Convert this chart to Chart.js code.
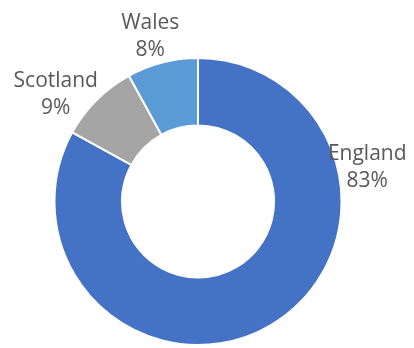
<!DOCTYPE html>
<html>
<head>
<meta charset="utf-8">
<script src="https://cdn.jsdelivr.net/npm/chart.js@4.4.1/dist/chart.umd.min.js"></script>
<style>
html,body{margin:0;padding:0;background:#fff;}
#wrap{width:414px;height:348px;position:relative;}
</style>
</head>
<body>
<div id="wrap"><canvas id="c" width="414" height="348"></canvas></div>
<script>
const categories = ["England", "Scotland", "Wales"];
const values = [83, 9, 8];
const percentLabels = ["83%", "9%", "8%"];
const colors = ["#4472C4", "#A5A5A5", "#5B9BD5"];

// label placement: angle (deg clockwise from top) and distance beyond outer radius
const labelPlacement = [
  {angle: 80.7, extra: 28},
  {angle: -54.6, extra: 31},
  {angle: -16.7, extra: 22.5}
];

const labelPlugin = {
  id: 'sliceLabels',
  afterDatasetsDraw(chart) {
    const ctx = chart.ctx;
    const meta = chart.getDatasetMeta(0);
    ctx.save();
    ctx.font = '21px "Open Sans", "DejaVu Sans", sans-serif';
    ctx.fillStyle = '#595959';
    ctx.textAlign = 'center';
    ctx.textBaseline = 'alphabetic';
    meta.data.forEach((arc, i) => {
      const p = arc.getProps(['x','y','outerRadius'], true);
      const a = labelPlacement[i].angle * Math.PI / 180;
      const r = p.outerRadius + labelPlacement[i].extra;
      const cx = p.x + Math.sin(a) * r;
      const cy = p.y - Math.cos(a) * r;
      ctx.fillText(categories[i], cx, cy - 13.5);
      ctx.fillText(percentLabels[i], cx, cy + 13.5);
    });
    ctx.restore();
  }
};

new Chart(document.getElementById('c'), {
  type: 'doughnut',
  data: {
    labels: categories,
    datasets: [{
      data: values,
      backgroundColor: colors,
      borderColor: '#ffffff',
      borderWidth: 2,
      hoverOffset: 0
    }]
  },
  options: {
    responsive: false,
    animation: false,
    cutout: '53%',
    layout: {padding: {top: 57, bottom: 2, left: 0, right: 18}},
    plugins: {legend: {display: false}, tooltip: {enabled: false}}
  },
  plugins: [labelPlugin]
});
</script>
</body>
</html>
